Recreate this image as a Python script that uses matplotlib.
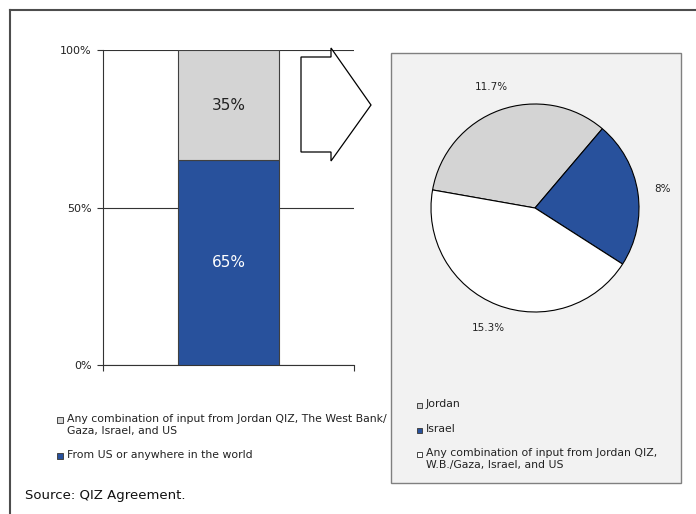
import matplotlib
matplotlib.use("Agg")
import matplotlib.pyplot as plt
from matplotlib.patches import Polygon, Rectangle
from matplotlib.lines import Line2D
import numpy as np

# rule of origin: share of product value by source
bar_labels = ["From US or anywhere in the world",
              "Any combination of input from Jordan QIZ, The West Bank/\nGaza, Israel, and US"]
bar_shares = [65, 35]
bar_colors = ["#28519C", "#D4D4D4"]
bar_text_colors = ["white", "#222222"]

# breakdown of the 35% local content
pie_labels = ["Jordan", "Israel",
              "Any combination of input from Jordan QIZ,\nW.B./Gaza, Israel, and US"]
pie_shares = [11.7, 8, 15.3]
pie_colors = ["#D4D4D4", "#28519C", "#FFFFFF"]

yticks = [0, 50, 100]

W, H = 696, 514
fig = plt.figure(figsize=(W / 100, H / 100), dpi=100)
plt.rcParams['font.family'] = ['DejaVu Sans']


def fx(x):
    return x / W


def fy(y):
    return 1 - y / H


def key(x, y, label, color, size):
    # small square swatch + label, swatch lined up with the first text row
    fig.add_artist(Rectangle((fx(x), fy(y + size / 2)), size / W, size / H,
                             facecolor=color, edgecolor="#444444", lw=0.7,
                             transform=fig.transFigure))
    fig.text(fx(x + size + 4), fy(y - 6), label, fontsize=7.8, ha="left",
             va="top", linespacing=1.3, color="#222222")


# outer frame (open on right and bottom)
fig.add_artist(Line2D([fx(10), 1], [fy(10), fy(10)], color="#4d4d4d", lw=1.5))
fig.add_artist(Line2D([fx(10), fx(10)], [fy(10), 0], color="#4d4d4d", lw=1.5))

# stacked bar
ax = fig.add_axes([fx(103), fy(365), fx(354) - fx(103), fy(50) - fy(365)])
bottom = 0
for share, col, tcol in zip(bar_shares, bar_colors, bar_text_colors):
    ax.bar(0.5, share, width=0.4, bottom=bottom, color=col,
           edgecolor="#404040", linewidth=0.8, zorder=3)
    ax.text(0.5, bottom + share / 2, "%d%%" % share, ha="center", va="center",
            fontsize=11, color=tcol, zorder=4)
    bottom += share
ax.set_xlim(0, 1)
ax.set_ylim(0, 100)
ax.set_yticks(yticks)
ax.set_yticklabels(["%d%%" % v for v in yticks], fontsize=8, color="#222222")
ax.set_xticks([0, 1])
ax.set_xticklabels(["", ""])
ax.tick_params(axis="both", direction="out", length=4.5, width=0.8, color="#333333")
ax.yaxis.grid(True, color="#333333", linewidth=0.8, zorder=0)
ax.set_axisbelow(True)
for s in ["top", "right"]:
    ax.spines[s].set_visible(False)
for s in ["left", "bottom"]:
    ax.spines[s].set_color("#333333")
    ax.spines[s].set_linewidth(0.8)

# bar legend, top series first
key(57, 420, bar_labels[1], bar_colors[1], 6)
key(57, 456, bar_labels[0], bar_colors[0], 6)

# block arrow pointing at the breakdown
arrow = [(301, 57), (331, 57), (331, 48), (371, 105), (331, 161),
         (331, 152), (301, 152)]
fig.add_artist(Polygon([(fx(x), fy(y)) for x, y in arrow], closed=True,
                       facecolor="white", edgecolor="black", lw=0.9,
                       transform=fig.transFigure, zorder=5))

# grey panel with the pie
fig.add_artist(Rectangle((fx(391), fy(483)), fx(681) - fx(391), fy(53) - fy(483),
                         facecolor="#F2F2F2", edgecolor="#808080", lw=1.0,
                         transform=fig.transFigure, zorder=0))

r = 104
pax = fig.add_axes([fx(535 - r), fy(208 + r), 2 * r / W, 2 * r / H])
wedges, _ = pax.pie(pie_shares, colors=pie_colors, startangle=170,
                    counterclock=False,
                    wedgeprops=dict(edgecolor="black", linewidth=0.8))
pax.set_xlim(-1, 1)
pax.set_ylim(-1, 1)
pax.axis("off")
for w, v in zip(wedges, pie_shares):
    mid = np.deg2rad((w.theta1 + w.theta2) / 2)
    pax.text(1.24 * np.cos(mid), 1.24 * np.sin(mid), "%g%%" % v,
             ha="center", va="center", fontsize=7.5, color="#222222")

# pie legend
for lab, col, y in zip(pie_labels, pie_colors, [405, 430, 454]):
    key(417, y, lab, col, 5)

fig.text(fx(25), fy(495), "Source: QIZ Agreement.", fontsize=9.5,
         ha="left", va="center", color="#111111")

fig.savefig("out.png", dpi=100)
